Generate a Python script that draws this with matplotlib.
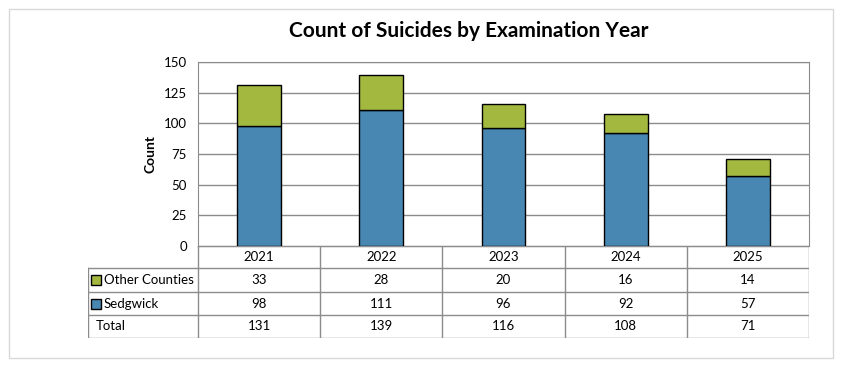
import matplotlib.pyplot as plt
from matplotlib.patches import Rectangle
import numpy as np

years = ['2021', '2022', '2023', '2024', '2025']
sedgwick = [98, 111, 96, 92, 57]
other = [33, 28, 20, 16, 14]
total = [s + o for s, o in zip(sedgwick, other)]

blue = '#4787b2'
green = '#a3b83f'
grid_c = '#8c8c8c'
plt.rcParams['font.family'] = ['Lato', 'DejaVu Sans']

W, H = 860, 369
fig = plt.figure(figsize=(W / 100, H / 100), dpi=100)

# outer frame
fig.patches.append(Rectangle((9 / W, 11 / H), 824 / W, 349 / H, transform=fig.transFigure,
                             fill=False, edgecolor='#d9d9d9', lw=1))

x0, x1, ytop, ybot = 198, 809, 62, 246
ax = fig.add_axes([x0 / W, (H - ybot) / H, (x1 - x0) / W, (ybot - ytop) / H])
x = np.arange(len(years))
ax.bar(x, sedgwick, width=0.36, color=blue, edgecolor='black', lw=1, zorder=3)
ax.bar(x, other, width=0.36, bottom=sedgwick, color=green, edgecolor='black', lw=1, zorder=3)
ax.set_xlim(-0.5, len(years) - 0.5)
ax.set_ylim(0, 150)
ax.set_yticks(range(0, 151, 25))
ax.yaxis.grid(True, color=grid_c, lw=1, zorder=0)
ax.set_xticks([])
ax.tick_params(axis='y', length=0, labelsize=9.5, pad=8)
for s in ax.spines.values():
    s.set_color(grid_c)
ax.set_ylabel('Count', fontsize=10, fontweight='bold', labelpad=5)
fig.text(469 / W, 1 - 31 / H, 'Count of Suicides by Examination Year',
         ha='center', va='center', fontsize=15, fontweight='bold')

# data table
tl, tt, tb = 88, 246, 338
tab = fig.add_axes([tl / W, (H - tb) / H, (x1 - tl) / W, (tb - tt) / H])
tab.set_xlim(tl, x1)
tab.set_ylim(tb, tt)
tab.axis('off')
colw = (x1 - x0) / len(years)
rows = [tt, 268, 292, 315, tb]
lc = dict(color=grid_c, lw=1)
for i in range(len(years) + 1):
    tab.plot([x0 + i * colw] * 2, [tt, tb], **lc)
tab.plot([tl, tl], [rows[1], tb], **lc)
tab.plot([x0, x1], [tt, tt], **lc)
for r in rows[1:]:
    tab.plot([tl, x1], [r, r], **lc)

names = ['Other Counties', 'Sedgwick', 'Total']
colors = [green, blue, None]
values = [other, sedgwick, total]
for j, yr in enumerate(years):
    cx = x0 + (j + 0.5) * colw
    tab.text(cx, (rows[0] + rows[1]) / 2, yr, ha='center', va='center', fontsize=9.5)
    for k, vals in enumerate(values):
        tab.text(cx, (rows[k + 1] + rows[k + 2]) / 2, str(vals[j]),
                 ha='center', va='center', fontsize=9.5)
for k, (nm, c) in enumerate(zip(names, colors)):
    cy = (rows[k + 1] + rows[k + 2]) / 2
    if c:
        tab.add_patch(Rectangle((tl + 3, cy - 5), 10, 10, facecolor=c, edgecolor='black', lw=1))
        tab.text(tl + 16, cy, nm, ha='left', va='center', fontsize=9.5)
    else:
        tab.text(tl + 8, cy, nm, ha='left', va='center', fontsize=9.5)

fig.savefig('out.png', dpi=100)
